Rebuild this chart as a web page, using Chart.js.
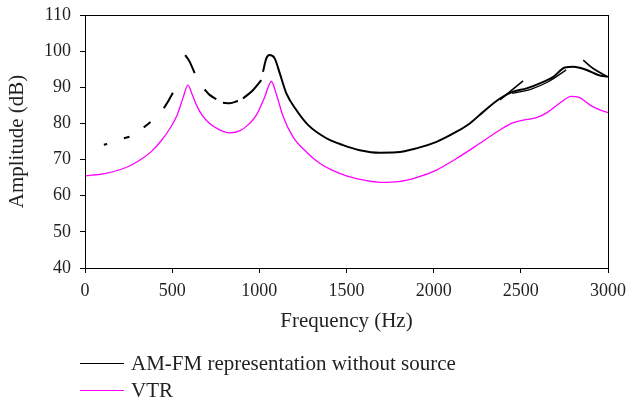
<!DOCTYPE html>
<html>
<head>
<meta charset="utf-8">
<script src="https://cdn.jsdelivr.net/npm/chart.js@4"></script>
<style>
  body { margin: 0; background: #fff; }
  #wrap { position: relative; width: 631px; height: 402px; }
  .leg { position: absolute; left: 80px; font: 21px "Liberation Serif", serif; color: #231f20; display: flex; align-items: center; }
  .leg span.ln { display: inline-block; width: 44px; height: 0; border-top: 1.5px solid; margin-right: 7px; }
</style>
</head>
<body>
<div id="wrap">
  <canvas id="grafico" width="631" height="402"></canvas>
  <div class="leg" style="top:351px"><span class="ln" style="border-color:#000"></span>AM-FM representation without source</div>
  <div class="leg" style="top:378px"><span class="ln" style="border-color:#ff00ff"></span>VTR</div>
</div>
<script>
// VTR curve
var vtrFreq = [0, 120, 236, 322, 380, 437, 490, 530, 562, 590, 615, 640, 676, 715, 770, 830, 890, 940, 983, 1030, 1069, 1098, 1136, 1193, 1279, 1346, 1420, 1500, 1600, 1700, 1800, 1900, 2016, 2131, 2265, 2380, 2456, 2520, 2590, 2650, 2720, 2790, 2830, 2900, 2950, 3000];
var vtrAmp  = [65.5, 66.2, 67.8, 70.1, 72.2, 75.2, 78.8, 82.5, 87.0, 90.6, 88.0, 85.0, 82.0, 80.0, 78.3, 77.4, 78.0, 79.8, 82.3, 87.2, 91.6, 88.0, 82.0, 76.3, 71.7, 69.0, 67.0, 65.5, 64.3, 63.7, 63.9, 65.0, 67.1, 70.3, 74.5, 78.2, 80.2, 81.0, 81.6, 83.0, 85.5, 87.5, 87.3, 85.0, 83.8, 83.0];

// AM-FM curve (null = gap, the dashed part)
var amfmFreq = [108, 127, 170, 223, 255, 300, 337, 376, 410, 452, 478, 504, 540, 575, 600, 629, 660, 686, 715, 753, 770, 791, 830, 877, 890, 906, 963, 1011, 1016,
                1021, 1040, 1059, 1088, 1117, 1155, 1212, 1279, 1385, 1480, 1576, 1691, 1786, 1901, 2016, 2131, 2207, 2284, 2380, 2456, 2533, 2609, 2686, 2753, 2801, 2878, 2944, 3000];
var amfmAmp  = [74.1, 74.3, null, 75.9, 76.3, null, 78.9, 80.4, null, 84.2, 86.2, 88.5, null, 98.9, 97.1, 93.9, null, 89.4, 87.9, 86.7, null, 85.7, 85.6, 86.2, null, 86.9, 89.2, 92.0, null,
                94.3, 98.0, 98.9, 98.0, 93.9, 88.3, 83.7, 79.6, 75.9, 74.0, 72.6, 71.9, 72.0, 73.1, 74.9, 77.7, 80.0, 83.2, 86.9, 88.8, 89.7, 91.1, 92.9, 95.5, 95.7, 94.8, 93.4, 92.9];

// extra AM-FM strands that overlap near the upper formants
var strandAFreq = [2858, 2915, 2992];
var strandAAmp  = [97.5, 95.2, 93.1];
var strandBFreq = [2380, 2450, 2513];
var strandBAmp  = [86.5, 89.3, 91.8];
var strandCFreq = [2450, 2560, 2660, 2760];
var strandCAmp  = [88.3, 89.5, 91.6, 94.8];

var xTicks = [0, 500, 1000, 1500, 2000, 2500, 3000];
var yTicks = [40, 50, 60, 70, 80, 90, 100, 110];

function pts(fs, as) {
    var r = [];
    for (var i = 0; i < fs.length; i++) r.push({ x: fs[i], y: as[i] });
    return r;
}

function linha(dados, cor, larg) {
    return {
        data: dados,
        borderColor: cor,
        borderWidth: larg,
        pointRadius: 0,
        fill: false,
        spanGaps: false,
        cubicInterpolationMode: "monotone"
    };
}

var fonteTick = { family: "Liberation Serif", size: 18 };
var fonteTitulo = { family: "Liberation Serif", size: 21 };

// moldura da area do grafico
var moldura = {
    id: "moldura",
    afterDraw: function (chart) {
        var a = chart.chartArea, c = chart.ctx;
        c.save();
        c.strokeStyle = "#000";
        c.lineWidth = 1;
        c.strokeRect(Math.round(a.left) + 0.5, Math.round(a.top) + 0.5, Math.round(a.right - a.left), Math.round(a.bottom - a.top));
        c.restore();
    }
};

const ctx = document.getElementById("grafico");

new Chart(ctx, {
    type: "line",
    data: {
        datasets: [
            linha(pts(vtrFreq, vtrAmp), "#ff00ff", 1.3),
            linha(pts(amfmFreq, amfmAmp), "#000", 2),
            linha(pts(strandAFreq, strandAAmp), "#000", 1.6),
            linha(pts(strandBFreq, strandBAmp), "#000", 1.6),
            linha(pts(strandCFreq, strandCAmp), "#000", 1.4)
        ]
    },
    options: {
        responsive: false,
        animation: false,
        layout: { padding: { left: 0, top: 15, right: 23, bottom: 68 } },
        plugins: { legend: { display: false }, tooltip: { enabled: false } },
        scales: {
            x: {
                type: "linear",
                min: 0, max: 3000,
                afterFit: function (s) { s.height = 66; s.paddingLeft = 0; s.paddingRight = 0; },
                afterBuildTicks: function (s) { s.ticks = xTicks.map(function (v) { return { value: v }; }); },
                grid: { drawOnChartArea: false, drawTicks: true, tickLength: 5, color: "#000" },
                border: { display: true, color: "#000", width: 1 },
                ticks: { font: fonteTick, color: "#231f20", padding: 7, maxRotation: 0,
                         callback: function (v) { return String(v); } },
                title: { display: true, text: "Frequency (Hz)", font: fonteTitulo, color: "#231f20", padding: 0 }
            },
            y: {
                min: 40, max: 110,
                afterFit: function (s) { s.width = 85; s.paddingTop = 0; s.paddingBottom = 0; },
                afterBuildTicks: function (s) { s.ticks = yTicks.map(function (v) { return { value: v }; }); },
                grid: { drawOnChartArea: false, drawTicks: true, tickLength: 5, color: "#000" },
                border: { display: true, color: "#000", width: 1 },
                ticks: { font: fonteTick, color: "#231f20", padding: 9,
                         callback: function (v) { return String(v); } },
                title: { display: true, text: "Amplitude (dB)", font: fonteTitulo, color: "#231f20", padding: { top: 5, bottom: 0 } }
            }
        }
    },
    plugins: [moldura]
});
</script>
</body>
</html>
